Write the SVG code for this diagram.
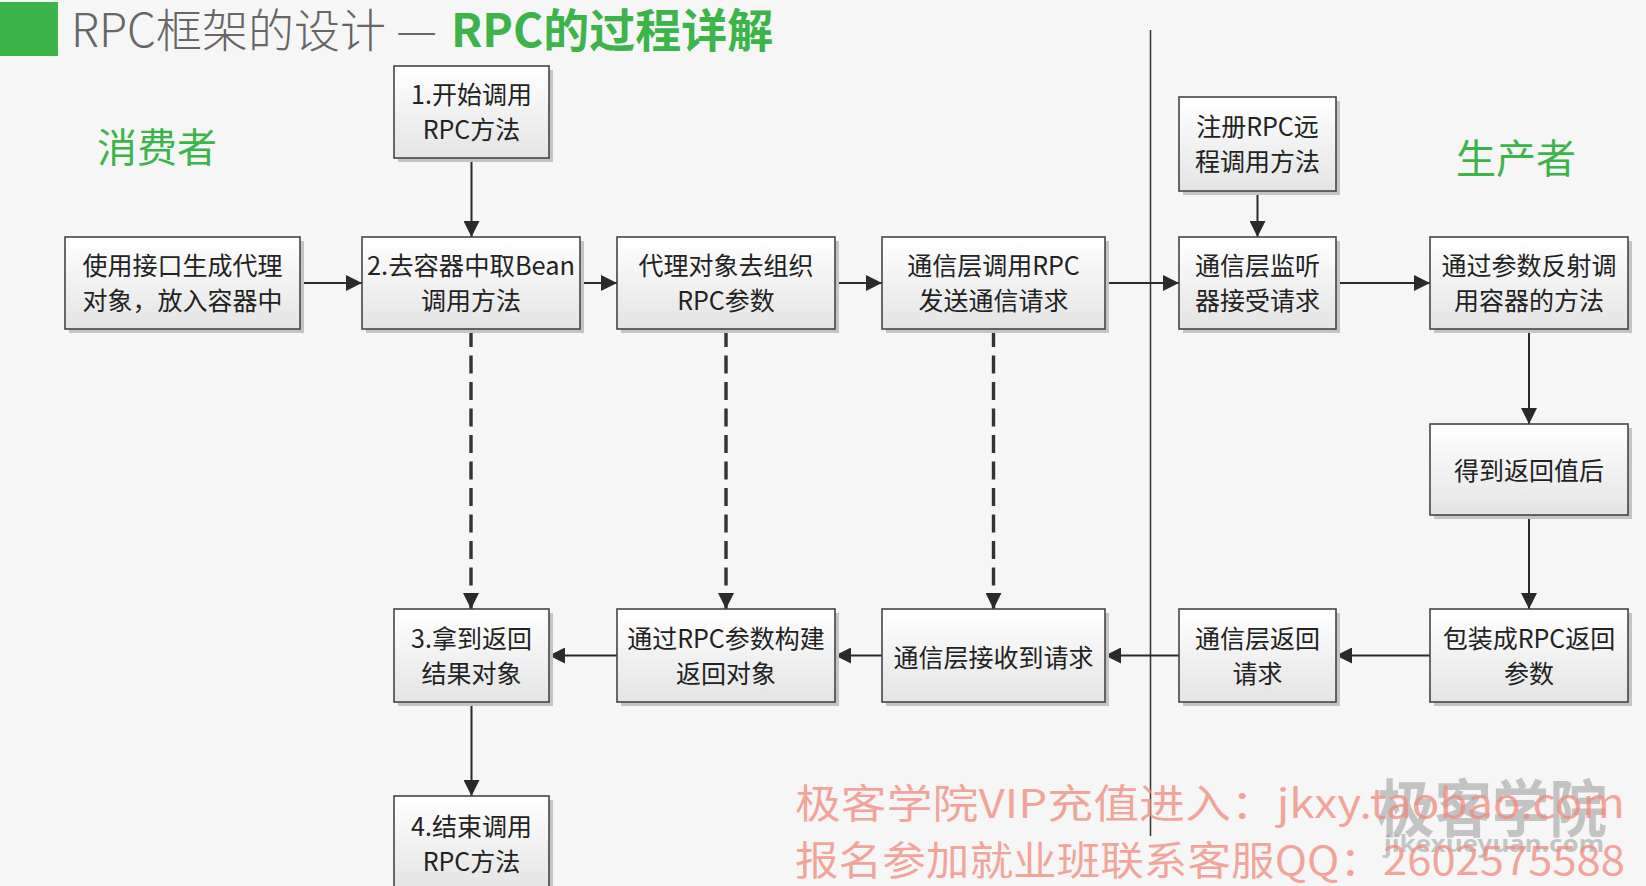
<svg xmlns="http://www.w3.org/2000/svg" width="1646" height="886" viewBox="0 0 1646 886">
<defs>
<linearGradient id="bg" x1="0" y1="0" x2="0" y2="1">
<stop offset="0" stop-color="#ffffff"/>
<stop offset="1" stop-color="#e4e4e4"/>
</linearGradient>
<marker id="ah" viewBox="0 0 16 16" markerWidth="16" markerHeight="16" refX="16" refY="8" orient="auto" markerUnits="userSpaceOnUse">
<path d="M0,0 L16,8 L0,16 z" fill="#2a2a2a"/>
</marker>
<style>
.box{fill:url(#bg);stroke:#454545;stroke-width:1.6}
.sh{fill:#c4c4c4}
.t{font-family:"Noto Sans CJK SC","Noto Sans",sans-serif;font-size:25px;fill:#222;text-anchor:middle}
.ln{stroke:#2a2a2a;stroke-width:2;fill:none;marker-end:url(#ah)}
.dl{stroke:#333;stroke-width:3.4;fill:none;stroke-dasharray:18 8.5;marker-end:url(#ah)}
.role{font-family:"Noto Sans CJK SC",sans-serif;font-size:40px;fill:#3cb44a;text-anchor:middle}
.wm{font-family:"Noto Sans CJK SC",sans-serif;font-size:40px;fill:#f08a7c;fill-opacity:0.75}
</style>
</defs>
<rect width="1646" height="886" fill="#f6f6f6"/>

<g id="title">
<rect x="0" y="2" width="58" height="54" fill="#3cb44a"/>
<text x="71" y="47" font-family="Noto Sans CJK SC,sans-serif" font-size="46" font-weight="300" fill="#666">RPC框架的设计 —<tspan x="451" font-weight="700" fill="#3cb44a">RPC的过程详解</tspan></text>
</g>

<text id="consumer" class="role" x="157" y="162">消费者</text>
<text id="producer" class="role" x="1516" y="173">生产者</text>

<line id="divider" x1="1150.5" y1="30" x2="1150.5" y2="836" stroke="#333" stroke-width="1.5"/>

<g id="connectors">
<line class="ln" x1="471.5" y1="158" x2="471.5" y2="237"/>
<line class="ln" x1="300" y1="283" x2="362" y2="283"/>
<line class="ln" x1="580" y1="283" x2="617" y2="283"/>
<line class="ln" x1="835" y1="283" x2="882" y2="283"/>
<line class="ln" x1="1105" y1="283" x2="1179" y2="283"/>
<line class="ln" x1="1257.5" y1="191" x2="1257.5" y2="237"/>
<line class="ln" x1="1336" y1="283" x2="1430" y2="283"/>
<line class="ln" x1="1529" y1="329" x2="1529" y2="424"/>
<line class="ln" x1="1529" y1="515" x2="1529" y2="609"/>
<line class="ln" x1="1430" y1="655.5" x2="1336" y2="655.5"/>
<line class="ln" x1="1179" y1="655.5" x2="1105" y2="655.5"/>
<line class="ln" x1="882" y1="655.5" x2="835" y2="655.5"/>
<line class="ln" x1="617" y1="655.5" x2="549" y2="655.5"/>
<line class="ln" x1="471.5" y1="702" x2="471.5" y2="796"/>
<line class="dl" x1="471" y1="329" x2="471" y2="609"/>
<line class="dl" x1="726" y1="329" x2="726" y2="609"/>
<line class="dl" x1="993.5" y1="329" x2="993.5" y2="609"/>
</g>

<g id="n1"><rect class="sh" x="398" y="70" width="155" height="92"/><rect class="box" x="394" y="66" width="155" height="92"/>
<text class="t" x="471.5" y="104">1.开始调用</text><text class="t" x="471.5" y="139">RPC方法</text></g>

<g id="nA"><rect class="sh" x="69" y="241" width="235" height="92"/><rect class="box" x="65" y="237" width="235" height="92"/>
<text class="t" x="182.5" y="275">使用接口生成代理</text><text class="t" x="182.5" y="310">对象，放入容器中</text></g>

<g id="nB"><rect class="sh" x="366" y="241" width="218" height="92"/><rect class="box" x="362" y="237" width="218" height="92"/>
<text class="t" x="471" y="275" textLength="208" lengthAdjust="spacingAndGlyphs">2.去容器中取Bean</text><text class="t" x="471" y="310">调用方法</text></g>

<g id="nC"><rect class="sh" x="621" y="241" width="218" height="92"/><rect class="box" x="617" y="237" width="218" height="92"/>
<text class="t" x="726" y="275">代理对象去组织</text><text class="t" x="726" y="310">RPC参数</text></g>

<g id="nD"><rect class="sh" x="886" y="241" width="223" height="92"/><rect class="box" x="882" y="237" width="223" height="92"/>
<text class="t" x="993.5" y="275">通信层调用RPC</text><text class="t" x="993.5" y="310">发送通信请求</text></g>

<g id="nReg"><rect class="sh" x="1183" y="101" width="157" height="94"/><rect class="box" x="1179" y="97" width="157" height="94"/>
<text class="t" x="1257.5" y="136">注册RPC远</text><text class="t" x="1257.5" y="171">程调用方法</text></g>

<g id="nE"><rect class="sh" x="1183" y="241" width="157" height="92"/><rect class="box" x="1179" y="237" width="157" height="92"/>
<text class="t" x="1257.5" y="275">通信层监听</text><text class="t" x="1257.5" y="310">器接受请求</text></g>

<g id="nF"><rect class="sh" x="1434" y="241" width="198" height="92"/><rect class="box" x="1430" y="237" width="198" height="92"/>
<text class="t" x="1529" y="275">通过参数反射调</text><text class="t" x="1529" y="310">用容器的方法</text></g>

<g id="nGet"><rect class="sh" x="1434" y="428" width="198" height="91"/><rect class="box" x="1430" y="424" width="198" height="91"/>
<text class="t" x="1529" y="480">得到返回值后</text></g>

<g id="nG"><rect class="sh" x="1434" y="613" width="198" height="93"/><rect class="box" x="1430" y="609" width="198" height="93"/>
<text class="t" x="1529" y="648">包装成RPC返回</text><text class="t" x="1529" y="683">参数</text></g>

<g id="nH"><rect class="sh" x="1183" y="613" width="157" height="93"/><rect class="box" x="1179" y="609" width="157" height="93"/>
<text class="t" x="1257.5" y="648">通信层返回</text><text class="t" x="1257.5" y="683">请求</text></g>

<g id="nI"><rect class="sh" x="886" y="613" width="223" height="93"/><rect class="box" x="882" y="609" width="223" height="93"/>
<text class="t" x="993.5" y="667">通信层接收到请求</text></g>

<g id="nJ"><rect class="sh" x="621" y="613" width="218" height="93"/><rect class="box" x="617" y="609" width="218" height="93"/>
<text class="t" x="726" y="648">通过RPC参数构建</text><text class="t" x="726" y="683">返回对象</text></g>

<g id="nK"><rect class="sh" x="398" y="613" width="155" height="93"/><rect class="box" x="394" y="609" width="155" height="93"/>
<text class="t" x="471.5" y="648">3.拿到返回</text><text class="t" x="471.5" y="683">结果对象</text></g>

<g id="nL"><rect class="sh" x="398" y="800" width="155" height="93"/><rect class="box" x="394" y="796" width="155" height="93"/>
<text class="t" x="471.5" y="836">4.结束调用</text><text class="t" x="471.5" y="871">RPC方法</text></g>

<g id="watermark">
<text x="1492" y="832" font-family="Noto Sans CJK SC,sans-serif" font-size="62" font-weight="700" fill="#999" fill-opacity="0.55" text-anchor="middle" textLength="230" lengthAdjust="spacingAndGlyphs">极客学院</text>
<text x="1494" y="852" font-family="Noto Sans,sans-serif" font-size="24" font-weight="700" fill="#999" fill-opacity="0.55" text-anchor="middle" textLength="220" lengthAdjust="spacingAndGlyphs">jikexueyuan.com</text>
<text class="wm" x="795" y="818" textLength="830" lengthAdjust="spacingAndGlyphs">极客学院VIP充值进入：jkxy.taobao.com</text>
<text class="wm" x="795" y="875" textLength="830" lengthAdjust="spacingAndGlyphs">报名参加就业班联系客服QQ：2602575588</text>
</g>
</svg>
